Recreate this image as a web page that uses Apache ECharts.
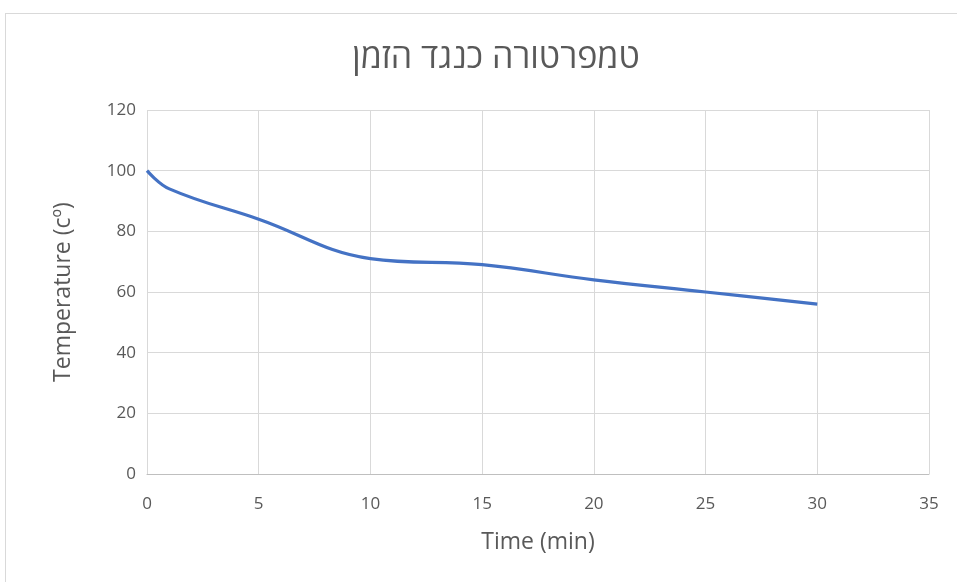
<!DOCTYPE html>
<html><head><meta charset="utf-8">
<script src="https://cdn.jsdelivr.net/npm/echarts@6/dist/echarts.min.js"></script>
<style>
html,body{margin:0;padding:0;background:#fff;overflow:hidden;}
#frame{position:absolute;left:5px;top:13px;width:1100px;height:1100px;border:1px solid #d9d9d9;box-sizing:border-box;}
#c{position:absolute;left:0;top:0;width:957px;height:582px;}
</style></head>
<body>
<div id="frame"></div>
<div id="c"></div>
<script>
const titleText = 'טמפרטורה כנגד הזמן';
const xName = 'Time (min)';
const yName = 'Temperature (cº)';
const times = [0, 1, 5, 10, 15, 20, 25, 30];
const temps = [100, 94, 84, 71, 69, 64, 60, 56];

const font = '"Open Sans", "DejaVu Sans", sans-serif';
const chart = echarts.init(document.getElementById('c'));
chart.setOption({
  animation: false,
  title: {
    text: titleText, left: 491, top: 36, textAlign: 'center',
    textStyle: {fontFamily: font, fontSize: 34, fontWeight: 'normal', color: '#595959'}
  },
  grid: {left: 147, right: 28, top: 110, bottom: 108},
  xAxis: {
    type: 'value', min: 0, max: 35, interval: 5,
    name: xName, nameLocation: 'middle', nameGap: 57,
    nameTextStyle: {fontFamily: font, fontSize: 23, color: '#595959'},
    axisLine: {show: true, lineStyle: {color: '#bfbfbf', width: 1}},
    axisTick: {show: false},
    axisLabel: {fontFamily: font, fontSize: 17, color: '#595959', margin: 22},
    splitLine: {show: true, lineStyle: {color: '#d9d9d9', width: 1}}
  },
  yAxis: {
    type: 'value', min: 0, max: 120, interval: 20,
    name: yName, nameLocation: 'middle', nameGap: 72, nameRotate: 90,
    nameTextStyle: {fontFamily: font, fontSize: 23, color: '#595959'},
    axisLine: {show: false},
    axisTick: {show: false},
    axisLabel: {fontFamily: font, fontSize: 17, color: '#595959', margin: 11},
    splitLine: {show: true, lineStyle: {color: '#d9d9d9', width: 1}}
  },
  series: [{
    type: 'line',
    data: times.map((t, i) => [t, temps[i]]),
    smooth: 0.4,
    showSymbol: false,
    lineStyle: {color: '#4472C4', width: 3.2}
  }]
});
</script>
</body></html>
